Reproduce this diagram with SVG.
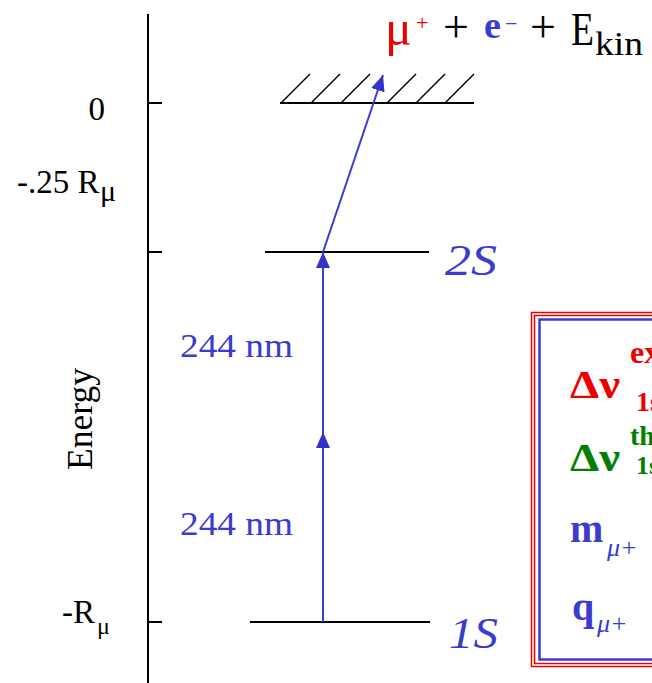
<svg xmlns="http://www.w3.org/2000/svg" width="652" height="683" viewBox="0 0 652 683">
<style>
.ser{font-family:"Liberation Serif","Times New Roman",serif;}
.blk{fill:#000;}
.blu{fill:#3b3bcf;}
.red{fill:#ee0000;}
.grn{fill:#008000;}
.b{font-weight:bold;}
.i{font-style:italic;}
.ln{stroke:#000;stroke-width:2;fill:none;}
.hatch{stroke:#000;stroke-width:1.5;fill:none;}
.arr{stroke:#3b3bcf;stroke-width:2;fill:none;marker-end:url(#ah);}
</style>
<defs>
<marker id="ah" markerUnits="userSpaceOnUse" markerWidth="16" markerHeight="14" refX="16" refY="7" orient="auto">
<path d="M0,0 L16,7 L0,14 z" fill="#3333cc"/>
</marker>
</defs>
<rect width="652" height="683" fill="#fff"/>

<g id="axis">
<line class="ln" x1="148" y1="14" x2="148" y2="683"/>
<line class="ln" x1="148" y1="103" x2="162" y2="103"/>
<line class="ln" x1="148" y1="252" x2="162" y2="252"/>
<line class="ln" x1="148" y1="622" x2="162" y2="622"/>
<text class="ser blk" x="105" y="120" font-size="33" text-anchor="end">0</text>
<text class="ser blk" x="17" y="193" font-size="33">-.25 R</text>
<text class="ser blk" x="100" y="201" font-size="30">μ</text>
<text class="ser blk" x="62" y="623" font-size="33">-R</text>
<text class="ser blk" x="97" y="634" font-size="24">μ</text>
<text class="ser blk" transform="translate(92,470) rotate(-90)" font-size="35" textLength="102" lengthAdjust="spacingAndGlyphs">Energy</text>
</g>

<g id="continuum">
<line class="ln" x1="280" y1="103" x2="474" y2="103"/>
<line class="hatch" x1="281" y1="103" x2="310" y2="74"/>
<line class="hatch" x1="311" y1="103" x2="340" y2="74"/>
<line class="hatch" x1="341" y1="103" x2="370" y2="74"/>
<line class="hatch" x1="387" y1="103" x2="416" y2="74"/>
<line class="hatch" x1="416" y1="103" x2="445" y2="74"/>
<line class="hatch" x1="445" y1="103" x2="474" y2="74"/>
</g>

<g id="products">
<text class="ser red" x="385" y="45" font-size="50">μ</text>
<text class="ser red" x="416" y="30" font-size="22">+</text>
<text class="ser blk" x="443" y="42" font-size="46">+</text>
<text class="ser blu b" x="484" y="38" font-size="38">e</text>
<text class="ser blu" x="505" y="31" font-size="22">−</text>
<text class="ser blk" x="530" y="42" font-size="46">+</text>
<text class="ser blk" x="571" y="45" font-size="46" textLength="23" lengthAdjust="spacingAndGlyphs">E</text>
<text class="ser blk" x="595" y="55" font-size="33" textLength="48" lengthAdjust="spacingAndGlyphs">kin</text>
</g>

<g id="level-2S">
<line class="ln" x1="265" y1="252" x2="429" y2="252"/>
<text class="ser blu i" x="445" y="275" font-size="44" textLength="52" lengthAdjust="spacingAndGlyphs">2S</text>
</g>

<g id="level-1S">
<line class="ln" x1="250" y1="622" x2="430" y2="622"/>
<text class="ser blu i" x="449" y="648" font-size="44" textLength="49" lengthAdjust="spacingAndGlyphs">1S</text>
</g>

<g id="connectors">
<line class="arr" x1="323" y1="622" x2="323" y2="432"/>
<line class="arr" x1="323" y1="432" x2="323" y2="252"/>
<line class="arr" x1="323" y1="252" x2="383" y2="75"/>
</g>

<g id="labels">
<text class="ser blu" x="180" y="357" font-size="34" textLength="113" lengthAdjust="spacingAndGlyphs">244 nm</text>
<text class="ser blu" x="180" y="535" font-size="34" textLength="113" lengthAdjust="spacingAndGlyphs">244 nm</text>
</g>

<g id="box">
<rect x="531.5" y="312.5" width="200" height="354" fill="none" stroke="#ee0000" stroke-width="1.5"/>
<rect x="534.5" y="315.5" width="200" height="348" fill="none" stroke="#ee0000" stroke-width="1.5"/>
<rect x="539.5" y="319.5" width="200" height="340" fill="none" stroke="#3b3bcf" stroke-width="2.5"/>
<text class="ser red b" x="570" y="398" font-size="40" textLength="50" lengthAdjust="spacingAndGlyphs">Δν</text>
<text class="ser red b" x="630" y="363" font-size="32">ex</text>
<text class="ser red b" x="636" y="411" font-size="28">1s</text>
<text class="ser grn b" x="570" y="471" font-size="40" textLength="50" lengthAdjust="spacingAndGlyphs">Δν</text>
<text class="ser grn b" x="630" y="445" font-size="28">th</text>
<text class="ser grn b" x="636" y="474" font-size="26">1s</text>
<text class="ser blu b" x="570" y="542" font-size="40">m</text>
<text class="ser blu i" x="607" y="556" font-size="26">μ+</text>
<text class="ser blu b" x="572" y="620" font-size="40">q</text>
<text class="ser blu i" x="597" y="632" font-size="26">μ+</text>
</g>
</svg>
